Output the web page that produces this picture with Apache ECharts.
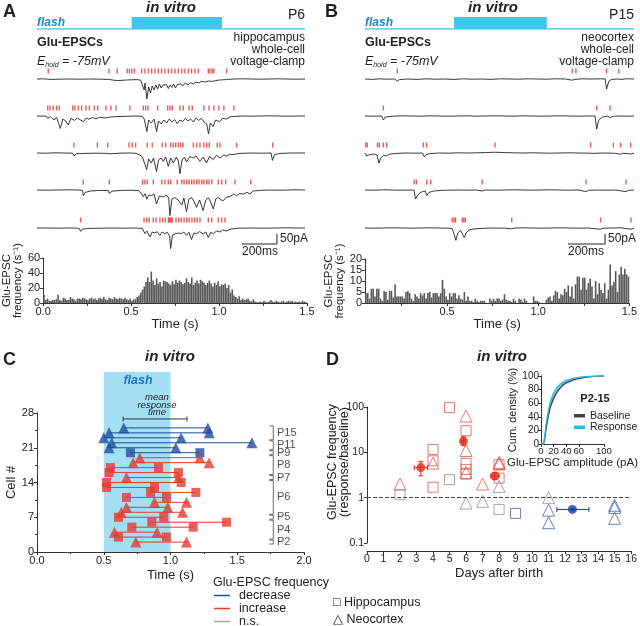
<!DOCTYPE html>
<html>
<head>
<meta charset="utf-8">
<script src="https://cdn.jsdelivr.net/npm/echarts@6/dist/echarts.min.js"></script>
<style>html,body{margin:0;background:#fff}#main{width:640px;height:626px}</style>
</head>
<body>
<div id="main"></div>
<script>
// ---- data ----
// flash window (s)
var flashA = [0.53, 1.035];
var flashB = [0.53, 1.03];

// example traces, [time (s), current (pA)]
var traceA1 = [[0,0],[0.03,1],[0.06,-1],[0.065,-8],[0.08,-2],[0.12,-1],[0.18,0],[0.24,-1],[0.30,0],[0.36,-1],[0.40,-2],[0.41,-9],[0.43,-6],[0.45,-8],[0.47,-7],[0.50,-5],[0.53,-4],[0.56,-3],[0.58,-6],[0.59,-30],[0.60,-55],[0.605,-20],[0.615,-100],[0.625,-40],[0.635,-70],[0.645,-35],[0.655,-55],[0.665,-30],[0.675,-50],[0.685,-25],[0.695,-45],[0.705,-30],[0.715,-40],[0.725,-28],[0.735,-48],[0.745,-30],[0.755,-42],[0.765,-25],[0.775,-45],[0.785,-28],[0.795,-38],[0.805,-24],[0.815,-35],[0.83,-20],[0.845,-30],[0.86,-18],[0.875,-25],[0.89,-15],[0.905,-20],[0.92,-12],[0.94,-15],[0.96,-10],[0.98,-12],[1.0,-8],[1.02,-5],[1.04,-4],[1.055,-3],[1.06,-10],[1.07,-2],[1.1,0],[1.15,1],[1.2,0],[1.25,-1],[1.3,0],[1.35,1],[1.4,0],[1.45,-1],[1.5,0]];
var traceA2 = [[0,0],[0.03,-1],[0.05,0],[0.06,-12],[0.075,-4],[0.095,-20],[0.11,-8],[0.13,-62],[0.145,-15],[0.16,-25],[0.175,-45],[0.19,-12],[0.21,-22],[0.225,-10],[0.24,-18],[0.26,-28],[0.275,-10],[0.29,-16],[0.31,-8],[0.33,-14],[0.35,-6],[0.38,-10],[0.41,-5],[0.44,-3],[0.48,-2],[0.52,-1],[0.56,0],[0.59,-2],[0.6,-15],[0.615,-78],[0.625,-20],[0.64,-35],[0.655,-15],[0.67,-78],[0.68,-25],[0.695,-40],[0.71,-20],[0.725,-35],[0.74,-15],[0.755,-30],[0.77,-18],[0.785,-38],[0.80,-20],[0.815,-28],[0.83,-12],[0.845,-25],[0.86,-15],[0.875,-30],[0.89,-10],[0.905,-22],[0.92,-12],[0.935,-30],[0.95,-40],[0.96,-90],[0.97,-35],[0.985,-53],[1.0,-20],[1.02,-28],[1.04,-12],[1.06,-15],[1.08,-5],[1.1,-2],[1.15,0],[1.2,-1],[1.25,0],[1.3,1],[1.35,0],[1.4,-1],[1.45,0],[1.5,0]];
var traceA3 = [[0,0],[0.05,-1],[0.1,1],[0.15,0],[0.2,-1],[0.207,-15],[0.22,-4],[0.27,-2],[0.32,-1],[0.39,-2],[0.395,-12],[0.41,-4],[0.46,-1],[0.52,0],[0.555,-2],[0.575,-10],[0.59,-20],[0.6,-12],[0.614,-83],[0.625,-30],[0.64,-50],[0.652,-25],[0.669,-92],[0.68,-35],[0.695,-25],[0.707,-42],[0.72,-20],[0.735,-67],[0.748,-25],[0.763,-50],[0.78,-20],[0.79,-35],[0.8,-103],[0.812,-35],[0.825,-20],[0.837,-45],[0.855,-18],[0.875,-25],[0.89,-15],[0.912,-42],[0.93,-20],[0.949,-50],[0.965,-18],[0.987,-33],[1.005,-12],[1.024,-25],[1.045,-10],[1.061,-15],[1.08,-6],[1.098,-8],[1.13,-2],[1.2,0],[1.26,-1],[1.31,0],[1.318,-37],[1.33,-8],[1.36,-2],[1.42,0],[1.5,0]];
var traceA4 = [[0,0],[0.06,-1],[0.12,0],[0.18,1],[0.23,0],[0.255,-2],[0.259,-28],[0.27,-12],[0.3,-5],[0.35,-2],[0.4,-3],[0.405,-17],[0.42,-6],[0.47,-2],[0.53,-1],[0.57,-3],[0.585,-20],[0.595,-33],[0.605,-18],[0.614,-45],[0.627,-25],[0.64,-28],[0.655,-20],[0.669,-70],[0.685,-30],[0.707,-35],[0.725,-25],[0.737,-40],[0.744,-128],[0.755,-45],[0.772,-38],[0.79,-50],[0.81,-75],[0.822,-40],[0.837,-108],[0.85,-45],[0.865,-38],[0.878,-55],[0.893,-87],[0.91,-50],[0.93,-103],[0.945,-50],[0.959,-38],[0.972,-60],[0.987,-95],[1.0,-45],[1.015,-38],[1.03,-50],[1.043,-53],[1.06,-35],[1.08,-33],[1.1,-20],[1.117,-28],[1.135,-18],[1.155,-20],[1.175,-12],[1.192,-20],[1.21,-5],[1.25,-2],[1.3,0],[1.35,-1],[1.4,0],[1.45,1],[1.5,0]];
var traceA5 = [[0,0],[0.06,0],[0.12,-1],[0.18,0],[0.235,-1],[0.244,-17],[0.255,-5],[0.3,-2],[0.36,-1],[0.42,0],[0.48,-1],[0.54,0],[0.59,-2],[0.604,-28],[0.615,-15],[0.632,-45],[0.645,-20],[0.66,-25],[0.672,-18],[0.688,-37],[0.7,-20],[0.716,-28],[0.73,-22],[0.742,-40],[0.748,-103],[0.758,-35],[0.772,-30],[0.79,-25],[0.81,-28],[0.822,-20],[0.837,-37],[0.85,-22],[0.865,-58],[0.878,-25],[0.893,-28],[0.91,-18],[0.93,-30],[0.945,-20],[0.959,-48],[0.972,-22],[0.987,-28],[1.005,-15],[1.024,-20],[1.04,-10],[1.061,-15],[1.08,-6],[1.098,-4],[1.13,-1],[1.2,0],[1.27,-1],[1.33,0],[1.4,1],[1.45,0],[1.5,0]];

var traceB1 = [[0.05,0],[0.09,-2],[0.13,1],[0.17,-1],[0.21,0],[0.224,-10],[0.235,-3],[0.28,0],[0.33,-2],[0.38,1],[0.43,-1],[0.48,0],[0.53,-2],[0.58,1],[0.63,-1],[0.68,0],[0.73,-2],[0.78,1],[0.83,0],[0.88,-1],[0.93,1],[0.98,0],[1.03,-1],[1.08,1],[1.13,0],[1.167,-6],[1.18,-2],[1.187,-5],[1.22,1],[1.27,0],[1.32,1],[1.345,0],[1.352,-50],[1.365,-10],[1.38,-2],[1.41,0],[1.418,-8],[1.43,-2],[1.46,1],[1.5,0]];
var traceB2 = [[0.05,0],[0.1,-1],[0.14,0],[0.149,-20],[0.16,-5],[0.2,-1],[0.25,1],[0.3,0],[0.35,-1],[0.4,1],[0.45,0],[0.5,-1],[0.55,0],[0.6,1],[0.65,-1],[0.7,0],[0.75,1],[0.8,0],[0.85,-1],[0.9,1],[0.95,0],[1.0,-1],[1.05,0],[1.1,1],[1.15,0],[1.2,-1],[1.25,0],[1.29,0],[1.299,-65],[1.31,-20],[1.33,-5],[1.36,0],[1.371,-10],[1.385,-2],[1.42,0],[1.46,-1],[1.5,0]];
var traceB3 = [[0.05,0],[0.059,-15],[0.075,-8],[0.1,-5],[0.115,-10],[0.125,-50],[0.135,-25],[0.149,-12],[0.155,-20],[0.167,-15],[0.18,-6],[0.22,-2],[0.27,0],[0.32,-1],[0.36,0],[0.37,-20],[0.38,-8],[0.386,-12],[0.4,-3],[0.45,0],[0.5,-1],[0.55,1],[0.6,0],[0.65,1],[0.7,2],[0.75,4],[0.8,2],[0.85,1],[0.9,0],[0.95,1],[1.0,0],[1.05,-1],[1.1,0],[1.15,1],[1.2,0],[1.26,-1],[1.267,-8],[1.28,-2],[1.33,0],[1.385,-1],[1.39,-8],[1.4,-2],[1.428,-6],[1.44,-1],[1.482,-5],[1.5,-1]];
var traceB4 = [[0.05,0],[0.1,-1],[0.15,1],[0.2,0],[0.25,-1],[0.3,0],[0.315,-2],[0.322,-45],[0.332,-30],[0.345,-15],[0.36,-8],[0.375,-5],[0.383,-28],[0.395,-12],[0.404,-18],[0.42,-5],[0.46,-2],[0.5,-1],[0.55,0],[0.6,-1],[0.65,0],[0.682,-5],[0.7,0],[0.75,-1],[0.8,0],[0.85,1],[0.9,0],[0.95,-1],[1.0,0],[1.05,1],[1.1,0],[1.15,-1],[1.2,0],[1.241,-8],[1.255,-2],[1.3,0],[1.35,-1],[1.4,0],[1.457,-8],[1.47,-2],[1.5,0]];
var traceB5 = [[0.05,0],[0.1,-1],[0.15,0],[0.2,1],[0.25,0],[0.3,-1],[0.35,0],[0.4,1],[0.45,0],[0.5,-1],[0.52,-3],[0.53,-30],[0.54,-62],[0.55,-25],[0.565,-12],[0.575,-8],[0.585,-48],[0.595,-25],[0.61,-10],[0.64,-4],[0.7,-1],[0.75,0],[0.8,-1],[0.841,-4],[0.86,0],[0.9,1],[0.95,0],[1.0,-1],[1.05,0],[1.1,1],[1.15,0],[1.2,-1],[1.25,0],[1.32,-6],[1.335,-1],[1.38,0],[1.43,1],[1.484,-6],[1.5,-1]];

// detected events (s)
var eventsA1 = [0.063,0.403,0.449,0.505,0.517,0.53,0.545,0.586,0.604,0.623,0.642,0.66,0.679,0.697,0.716,0.735,0.753,0.772,0.791,0.81,0.828,0.847,0.865,0.884,0.903,0.959,0.968,0.981,0.99,1.061];
var eventsA2 = [0.06,0.073,0.091,0.11,0.125,0.2,0.213,0.231,0.25,0.274,0.293,0.321,0.34,0.386,0.414,0.442,0.52,0.595,0.608,0.621,0.675,0.731,0.744,0.757,0.8,0.819,0.851,0.869,0.934,0.963,0.99,1.018,1.046,1.102];
var eventsA3 = [0.207,0.338,0.396,0.515,0.533,0.552,0.617,0.645,0.701,0.72,0.748,0.763,0.776,0.791,0.804,0.817,0.875,0.894,0.912,0.934,0.95,0.964,1.009,1.024,1.117,1.319];
var eventsA4 = [0.259,0.405,0.591,0.604,0.617,0.651,0.698,0.716,0.735,0.748,0.785,0.81,0.823,0.838,0.851,0.866,0.879,0.894,0.907,0.922,0.934,0.95,0.963,0.978,1.015,1.034,1.056,1.108,1.196];
var eventsA5 = [0.244,0.599,0.614,0.628,0.651,0.666,0.688,0.703,0.718,0.735,0.74,0.746,0.752,0.757,0.778,0.793,0.808,0.823,0.838,0.852,0.867,0.882,0.897,0.912,0.959,0.978,1.015,1.034,1.052];
var eventsB1 = [0.224,1.167,1.187,1.352,1.418];
var eventsB2 = [0.149,1.299,1.371];
var eventsB3 = [0.054,0.062,0.117,0.127,0.149,0.167,0.364,0.382,0.751,1.267,1.389,1.428,1.482];
var eventsB4 = [0.315,0.327,0.383,0.404,0.682,1.241,1.457];
var eventsB5 = [0.52,0.53,0.538,0.575,0.583,0.591,0.841,1.32,1.484];

// scale bars [time, pA]
var scaleBarA = [[1.147,-80],[1.343,-80],[1.343,-30]];
var scaleBarB = [[1.144,-80],[1.344,-80],[1.344,-30]];

// PSTH, 10 ms bins (s^-1)
var binWidth = 0.01;
var histStartA = 0;
var histA = [11,4,6,3,3,4,4,5,11,4, 3,7,6,4,4,8,6,5,3,6, 6,5,7,6,5,4,6,7,5,6, 4,6,7,5,8,5,4,7,6,5,
  8,6,5,7,6,5,7,5,4,6, 3,5,5,8,10,14,18,22,28,34, 28,42,30,24,33,26,28,22,30,29, 28,26,24,29,25,31,27,30,28,25,
  27,33,28,26,34,24,27,30,26,31, 29,27,24,27,30,26,22,27,24,29, 22,25,24,26,20,24,14,18,10,8, 6,9,4,6,4,5,6,3,2,5,
  2,1,1,2,1,3,2,1,2,4, 2,1,3,2,1,2,3,1,2,3, 2,3,1,2,1,2,1,3,2,1];
var histStartB = 0.05;
var histB = [4.5,4.5,2,6.5,6.5,3,6.5,6.5,2,1, 5.5,5,1.5,5.5,5.5,2.5,8.5,3,3,3, 3,2,5,5.5,4.5,2,1,4,3,2, 4.5,3.5,4.5,2,4.5,5,2.5,4.5,4.5,4.5,
  3,4.5,10.5,6.5,3,1.5,4.5,3,4.5,4.5, 2,3.5,2,1.5,5,1,3,1,1,0.5, 2,1,0.5,1,1,1,0,0,2,1, 2,1,2,2,1,1.5,4,1.5,1,1,
  0.5,2,1,0,2,1.5,0.5,2,1,0, 0,0,3,1,1,0.5,0,0,0,1.5, 2.5,3,1,3.5,5.5,5,2,4,3.5,6.5, 5,8,3,7.5,2,8.5,12,12,6,11.5,
  11.5,6,9,11,7.5,2,10,4,9,6, 4.5,9,2,6,17.5,8,9.5,14.5,5,13, 16.5,13,15.5,13,12];

// panel C: one row per cell
var cellC   = [25,24,23,22,21,20,19,18,17,16,15,14,13,12,11,10,9,8,7,6,5,4,3,2];
var firstC  = [0.65,0.54,0.50,0.56,0.54,0.70,0.77,0.72,0.55,0.54,0.67,0.52,0.52,0.85,0.67,0.88,0.67,0.63,0.61,0.86,0.71,0.58,0.61,0.74];
var secondC = [1.28,1.29,1.08,1.61,1.04,1.22,1.22,1.29,0.91,1.06,1.06,1.08,0.88,1.19,0.97,1.12,0.98,1.09,0.95,1.42,1.17,0.90,0.97,1.12];
var shapeC  = ['t','t','t','t','t','s','t','t','s','s','t','s','s','s','s','t','t','t','s','s','s','t','s','t'];
var changeC = ['dec','dec','dec','dec','dec','dec','inc','inc','inc','inc','inc','inc','inc','inc','inc','inc','inc','inc','inc','inc','inc','inc','inc','inc'];
var meanResponse = [0.645, 1.124];
var meanResponseCell = 26.8;
var ageGroups   = ['P15','P11','P9','P8','P7','P6','P5','P4','P2'];
var groupTop    = [25,22,20,19,15,14,7,6,2];
var groupBottom = [23,21,20,16,15,8,7,3,2];

// panel D: response/baseline ratio by age (days)
var hippoUpDay = [4,4,4,5,6,6,6,6,8,8];
var hippoUpVal = [11.6,6.5,1.7,97,30,5.7,4.2,3.3,5.3,2.7];
var neoUpDay = [2,4,6,6,6,7,8,8];
var neoUpVal = [2.0,5.8,63,11,3.6,2.0,6.0,5.6];
var hippoNsDay = [2,5,8];
var hippoNsVal = [1.16,2.5,0.55];
var neoNsDay = [6,7,8,11];
var neoNsVal = [0.76,0.83,1.77,1.0];
var hippoDownDay = [9];
var hippoDownVal = [0.45];
var neoDownDay = [11,11,15,15,15];
var neoDownVal = [0.53,0.28,0.68,0.61,0.35];
// means: [day, ratio, dayLo, dayHi, ratioLo, ratioHi]
var meanUp = [[3.26,4.6,2.86,3.66,3.03,6.24],[5.84,17.7,5.74,5.94,14,22],[7.74,3.0,7.5,8.0,2.5,3.6]];
var meanDown = [[12.44,0.55,11.5,13.44,0.52,0.58]];

// inset: cumulative amplitude distribution (%)
var ampX     = [0,4,6,8,10,12,15,20,25,30,35,40,50,60,70,80,90,100];
var baseMean = [0,0,8,22,33,43,55,67,76,82,87,90,94,96.5,98,99,99.7,100];
var baseSem  = [0,0,2,3,3.5,3.5,3.5,3,2.5,2,1.8,1.5,1.2,0.8,0.5,0.3,0.1,0];
var respMean = [0,0,12,28,40,50,62,74,82,87,90.5,93,96,98,99,99.6,100,100];
var respSem  = [0,0,3,4.5,5,5,4.5,4,3.5,3,2.5,2,1.2,0.8,0.5,0.3,0,0];

// ---- chart ----
var F = "'Liberation Sans', Arial, sans-serif";
var RED = '#e53b2e', BLUE = '#1d4f9e', GRAY = '#8f8f8f', CYAN = '#3cc6e9', TICKRED = '#e63329', INK = '#222';

var grid = [], xAxis = [], yAxis = [], series = [];
function addGrid(g, xa, ya) {
  grid.push(g);
  var i = grid.length - 1;
  xa.gridIndex = i; ya.gridIndex = i;
  xAxis.push(xa); yAxis.push(ya);
  return i;
}
function hidden(min, max) { return { type: 'value', show: false, min: min, max: max }; }
var axLine = { show: true, lineStyle: { color: '#333', width: 1 } };
var axTick = { show: true, length: 3, lineStyle: { color: '#333' } };
function axLabel(extra) { return Object.assign({ fontSize: 11, color: INK, fontFamily: F, margin: 3 }, extra || {}); }
var nameStyle = { fontSize: 13, color: INK, fontFamily: F };

// flash bars above the traces
[[37, 268, 0, flashA], [365, 269, 0.05, flashB]].forEach(function (p) {
  var gi = addGrid({ left: p[0], top: 17, width: p[1], height: 12 }, hidden(p[2], 1.5), hidden(0, 1));
  series.push({
    type: 'line', xAxisIndex: gi, yAxisIndex: gi, data: [[p[2], 0], [1.5, 0]], symbol: 'none',
    lineStyle: { color: CYAN, width: 1.5 }, silent: true,
    markArea: { silent: true, itemStyle: { color: CYAN }, data: [[{ xAxis: p[3][0], yAxis: 0 }, { xAxis: p[3][1], yAxis: 1 }]] }
  });
});

// traces
var traceTops = [69, 106, 143, 180, 218];
function addTraces(left, width, xmin, traces, events, bar) {
  traces.forEach(function (tr, k) {
    var gi = addGrid({ left: left, top: traceTops[k], width: width, height: 36 }, hidden(xmin, 1.5), hidden(-130, 50));
    series.push({ type: 'line', xAxisIndex: gi, yAxisIndex: gi, data: tr, symbol: 'none', silent: true,
      lineStyle: { color: INK, width: 0.9 } });
    series.push({ type: 'scatter', xAxisIndex: gi, yAxisIndex: gi, silent: true,
      data: events[k].map(function (t) { return [t, 40]; }),
      symbol: 'rect', symbolSize: [1.4, 5], itemStyle: { color: TICKRED } });
    if (k === traces.length - 1) {
      series.push({ type: 'line', xAxisIndex: gi, yAxisIndex: gi, data: bar, symbol: 'none', silent: true,
        lineStyle: { color: INK, width: 1 } });
    }
  });
}
addTraces(37, 268, 0, [traceA1, traceA2, traceA3, traceA4, traceA5], [eventsA1, eventsA2, eventsA3, eventsA4, eventsA5], scaleBarA);
addTraces(365, 269, 0.05, [traceB1, traceB2, traceB3, traceB4, traceB5], [eventsB1, eventsB2, eventsB3, eventsB4, eventsB5], scaleBarB);

// histograms
function addHist(g, xmin, ymax, yint, tickVals, labelVals, start, vals) {
  var gi = addGrid(g, {
    type: 'value', min: xmin, max: 1.5, axisLine: axLine,
    axisTick: Object.assign({ customValues: tickVals }, axTick),
    axisLabel: axLabel({ customValues: labelVals, formatter: function (v) { return v.toFixed(1); } }),
    splitLine: { show: false }, name: 'Time (s)', nameLocation: 'middle', nameGap: 15, nameTextStyle: nameStyle
  }, {
    type: 'value', min: 0, max: ymax, interval: yint, axisLine: axLine, axisTick: axTick, axisLabel: axLabel(),
    splitLine: { show: false }, name: 'Glu-EPSC\nfrequency (s\u207b\u00b9)', nameLocation: 'middle', nameRotate: 90,
    nameGap: 13, nameTextStyle: { fontSize: 11.5, color: INK, fontFamily: F, lineHeight: 11 }
  });
  series.push({ type: 'bar', xAxisIndex: gi, yAxisIndex: gi, barWidth: 1.6, silent: true,
    data: vals.map(function (v, i) { return [start + (i + 0.5) * binWidth, v]; }),
    itemStyle: { color: '#585858' } });
}
addHist({ left: 36, top: 258, width: 271, height: 45 }, 0, 60, 20, [0, 0.25, 0.5, 0.75, 1, 1.25, 1.5], [0, 0.5, 1, 1.5], histStartA, histA);
addHist({ left: 365, top: 259, width: 269, height: 44 }, 0.05, 20, 5, [0.25, 0.5, 0.75, 1, 1.25, 1.5], [0.5, 1, 1.5], histStartB, histB);

// panel C
var gFC = addGrid({ left: 37, top: 372, width: 267, height: 180 }, hidden(0, 2), hidden(0, 1));
series.push({ type: 'line', xAxisIndex: gFC, yAxisIndex: gFC, data: [[0.5, 0]], symbol: 'none', z: 1, silent: true,
  lineStyle: { width: 0 },
  markArea: { silent: true, itemStyle: { color: '#a3def2' }, data: [[{ xAxis: 0.5, yAxis: 0 }, { xAxis: 1.0, yAxis: 1 }]] } });

var gC = addGrid({ left: 37, top: 413, width: 267, height: 139 }, {
  type: 'value', min: 0, max: 2, interval: 0.5, axisLine: axLine, axisTick: axTick,
  minorTick: { show: true, splitNumber: 2, length: 2, lineStyle: { color: '#333' } },
  axisLabel: axLabel({ formatter: function (v) { return v.toFixed(1); } }), splitLine: { show: false },
  name: 'Time (s)', nameLocation: 'middle', nameGap: 17, nameTextStyle: nameStyle
}, {
  type: 'value', min: 0, max: 28, interval: 7, axisLine: axLine, axisTick: axTick,
  minorTick: { show: true, splitNumber: 2, length: 2, lineStyle: { color: '#333' } },
  axisLabel: axLabel(), splitLine: { show: false },
  name: 'Cell #', nameLocation: 'middle', nameRotate: 90, nameGap: 14, nameTextStyle: nameStyle
});
cellC.forEach(function (c, i) {
  var col = changeC[i] === 'dec' ? BLUE : RED;
  series.push({ type: 'line', name: changeC[i] === 'dec' ? 'decrease' : 'increase', xAxisIndex: gC, yAxisIndex: gC, z: 2,
    data: [[firstC[i], c], [secondC[i], c]], symbol: 'none', silent: true,
    itemStyle: { color: col }, lineStyle: { color: col, width: 1 } });
});
[['dec', 't'], ['dec', 's'], ['inc', 't'], ['inc', 's']].forEach(function (k) {
  var pts = [];
  cellC.forEach(function (c, i) {
    if (changeC[i] === k[0] && shapeC[i] === k[1]) { pts.push([firstC[i], c]); pts.push([secondC[i], c]); }
  });
  series.push({ type: 'scatter', xAxisIndex: gC, yAxisIndex: gC, z: 3, silent: true, data: pts,
    symbol: k[1] === 't' ? 'triangle' : 'rect', symbolSize: k[1] === 't' ? 11 : 9,
    itemStyle: { color: k[0] === 'dec' ? BLUE : RED } });
});
series.push({ type: 'line', xAxisIndex: gC, yAxisIndex: gC, silent: true, z: 3,
  data: [[meanResponse[0], meanResponseCell], [meanResponse[1], meanResponseCell]],
  symbol: 'rect', symbolSize: [1, 5], itemStyle: { color: '#333' }, lineStyle: { color: '#333', width: 1 } });
ageGroups.forEach(function (g, i) {
  var t = groupTop[i] + 0.4, b = groupBottom[i] - 0.4;
  series.push({ type: 'line', xAxisIndex: gC, yAxisIndex: gC, silent: true, symbol: 'none',
    data: [[1.74, t], [1.77, t], [1.77, b], [1.74, b]], lineStyle: { color: '#444', width: 0.8 } });
  series.push({ type: 'scatter', xAxisIndex: gC, yAxisIndex: gC, silent: true, symbolSize: 0,
    data: [[1.79, (groupTop[i] + groupBottom[i]) / 2]],
    label: { show: true, position: 'right', distance: 1, formatter: g, fontSize: 11, color: INK, fontFamily: F } });
});

// panel D
var gD = addGrid({ left: 367, top: 407, width: 266, height: 136 }, {
  type: 'value', min: 0, max: 16, interval: 1, offset: 8, axisLine: axLine, axisTick: axTick,
  axisLabel: axLabel({ fontSize: 10.5 }), splitLine: { show: false },
  name: 'Days after birth', nameLocation: 'middle', nameGap: 16, nameTextStyle: nameStyle
}, {
  type: 'log', logBase: 10, min: 0.1, max: 100, axisLine: axLine, axisTick: axTick,
  axisLabel: axLabel({ fontSize: 10.5 }), splitLine: { show: false }
});
function openPts(name, days, vals, symbol, color, size) {
  series.push({ type: 'scatter', name: name, xAxisIndex: gD, yAxisIndex: gD, silent: true, z: 3,
    data: days.map(function (d, i) { return [d, vals[i]]; }), symbol: symbol, symbolSize: size,
    itemStyle: { color: 'rgba(0,0,0,0)', borderColor: color, borderWidth: 1 } });
}
openPts('up-h', hippoUpDay, hippoUpVal, 'rect', '#e0554c', 10);
openPts('up-n', neoUpDay, neoUpVal, 'triangle', '#e0554c', 12);
openPts('n.s.', hippoNsDay, hippoNsVal, 'rect', GRAY, 10);
openPts('n.s.', neoNsDay, neoNsVal, 'triangle', GRAY, 12);
openPts('down-h', hippoDownDay, hippoDownVal, 'rect', '#3d62b0', 10);
openPts('down-n', neoDownDay, neoDownVal, 'triangle', '#3d62b0', 12);
series[series.length - 1].markLine = { silent: true, symbol: 'none', label: { show: false },
  lineStyle: { type: 'dashed', color: '#444', width: 1 }, data: [{ yAxis: 1 }] };
function errBars(data, color) {
  series.push({ type: 'custom', xAxisIndex: gD, yAxisIndex: gD, silent: true, z: 4, data: data,
    renderItem: function (params, api) {
      var a = api.coord([api.value(2), api.value(1)]), b = api.coord([api.value(3), api.value(1)]);
      var d = api.coord([api.value(0), api.value(4)]), e = api.coord([api.value(0), api.value(5)]);
      var st = { stroke: color, lineWidth: 1 };
      return { type: 'group', children: [
        { type: 'line', shape: { x1: a[0], y1: a[1], x2: b[0], y2: b[1] }, style: st },
        { type: 'line', shape: { x1: a[0], y1: a[1] - 2.5, x2: a[0], y2: a[1] + 2.5 }, style: st },
        { type: 'line', shape: { x1: b[0], y1: b[1] - 2.5, x2: b[0], y2: b[1] + 2.5 }, style: st },
        { type: 'line', shape: { x1: d[0], y1: d[1], x2: e[0], y2: e[1] }, style: st },
        { type: 'line', shape: { x1: d[0] - 2.5, y1: d[1], x2: d[0] + 2.5, y2: d[1] }, style: st },
        { type: 'line', shape: { x1: e[0] - 2.5, y1: e[1], x2: e[0] + 2.5, y2: e[1] }, style: st }
      ] };
    } });
  series.push({ type: 'scatter', xAxisIndex: gD, yAxisIndex: gD, silent: true, z: 5,
    data: data.map(function (m) { return [m[0], m[1]]; }), symbol: 'circle', symbolSize: 9, itemStyle: { color: color } });
}
errBars(meanUp, '#e8271f');
errBars(meanDown, '#1b3f9a');

// inset
var gI = addGrid({ left: 541, top: 376, width: 83, height: 68 }, {
  type: 'value', min: 0, max: 100, interval: 20, axisLine: axLine, axisTick: axTick,
  axisLabel: axLabel({ fontSize: 9.5, margin: 2, showMaxLabel: true, showMinLabel: true, hideOverlap: false }), splitLine: { show: false },
  name: 'Glu-EPSC amplitude (pA)', nameLocation: 'middle', nameGap: 13, nameTextStyle: { fontSize: 11.5, color: INK, fontFamily: F }
}, {
  type: 'value', min: 0, max: 100, interval: 20, axisLine: axLine, axisTick: axTick,
  axisLabel: axLabel({ fontSize: 10, margin: 2 }), splitLine: { show: false },
  name: 'Cum. density (%)', nameLocation: 'middle', nameRotate: 90, nameGap: 14, nameTextStyle: { fontSize: 11, color: INK, fontFamily: F }
});
function band(mean, sem, fill) {
  series.push({ type: 'custom', xAxisIndex: gI, yAxisIndex: gI, silent: true, z: 2,
    data: ampX.map(function (x, i) { return [x, mean[i]]; }),
    renderItem: function (params, api) {
      if (params.dataIndex !== 0) return null;
      var pts = [];
      ampX.forEach(function (x, i) { pts.push(api.coord([x, Math.min(100, mean[i] + sem[i])])); });
      for (var i = ampX.length - 1; i >= 0; i--) pts.push(api.coord([ampX[i], Math.max(0, mean[i] - sem[i])]));
      return { type: 'polygon', shape: { points: pts }, style: { fill: fill } };
    } });
}
band(baseMean, baseSem, 'rgba(90,90,90,0.45)');
band(respMean, respSem, 'rgba(60,198,233,0.55)');
series.push({ type: 'line', name: 'Baseline', xAxisIndex: gI, yAxisIndex: gI, silent: true, z: 3, symbol: 'none',
  data: ampX.map(function (x, i) { return [x, baseMean[i]]; }), itemStyle: { color: '#444' }, lineStyle: { color: '#444', width: 1.3 } });
series.push({ type: 'line', name: 'Response', xAxisIndex: gI, yAxisIndex: gI, silent: true, z: 3, symbol: 'none',
  data: ampX.map(function (x, i) { return [x, respMean[i]]; }), itemStyle: { color: '#2bb8e4' }, lineStyle: { color: '#2bb8e4', width: 1.3 } });

// text
function txt(x, y, s, opt) {
  return { type: 'text', x: x, y: y, z: 100, silent: true,
    style: Object.assign({ text: s, fontFamily: F, fontSize: 11.5, fill: INK, align: 'left', verticalAlign: 'middle' }, opt || {}) };
}
var title = { fontSize: 15, fontWeight: 'bold', fontStyle: 'italic', align: 'center' };
var flashTxt = { fontSize: 12, fontWeight: 'bold', fontStyle: 'italic', fill: '#1a88cc' };
var ehold = { rich: {
  i: { fontSize: 12.5, fontStyle: 'italic', fontFamily: F, fill: INK, lineHeight: 14 },
  s: { fontSize: 7, fontStyle: 'italic', fontFamily: F, fill: INK, lineHeight: 8, verticalAlign: 'bottom' } } };
var dName = txt(339, 462, 'Glu-EPSC frequency\n(response/baseline)', { fontSize: 12.5, align: 'center', lineHeight: 12 });
dName.rotation = Math.PI / 2;
var graphic = [
  txt(3, 12, 'A', { fontSize: 18, fontWeight: 'bold' }),
  txt(325, 12, 'B', { fontSize: 18, fontWeight: 'bold' }),
  txt(3, 360, 'C', { fontSize: 18, fontWeight: 'bold' }),
  txt(326, 360, 'D', { fontSize: 18, fontWeight: 'bold' }),
  txt(171, 8, 'in vitro', title), txt(493, 8, 'in vitro', title),
  txt(170, 357, 'in vitro', title), txt(502, 357, 'in vitro', title),
  txt(37, 23, 'flash', flashTxt), txt(365, 23, 'flash', flashTxt),
  txt(305, 15, 'P6', { fontSize: 14, align: 'right' }), txt(634, 15, 'P15', { fontSize: 14, align: 'right' }),
  txt(37, 43, 'Glu-EPSCs', { fontSize: 12.5, fontWeight: 'bold' }), txt(365, 43, 'Glu-EPSCs', { fontSize: 12.5, fontWeight: 'bold' }),
  txt(37, 62, '{i|E}{s|hold}{i| = -75mV}', ehold), txt(365, 62, '{i|E}{s|hold}{i| = -75mV}', ehold),
  txt(305, 50, 'hippocampus\nwhole-cell\nvoltage-clamp', { fontSize: 12, align: 'right', lineHeight: 12 }),
  txt(634, 50, 'neocortex\nwhole-cell\nvoltage-clamp', { fontSize: 12, align: 'right', lineHeight: 12 }),
  txt(280, 239, '50pA', { fontSize: 12 }), txt(608, 239, '50pA', { fontSize: 12 }),
  txt(242, 252, '200ms', { fontSize: 12 }), txt(568, 252, '200ms', { fontSize: 12 }),
  txt(138, 381, 'flash', { fontSize: 12.5, fontWeight: 'bold', fontStyle: 'italic', fill: '#1a78c2', align: 'center' }),
  txt(157, 405, 'mean\nresponse\ntime', { fontSize: 9.5, fontStyle: 'italic', align: 'center', lineHeight: 7.5 }),
  dName,
  txt(213, 583, 'Glu-EPSC frequency', { fontSize: 12.5 }),
  txt(333, 603, '\u25a1 Hippocampus', { fontSize: 12.5 }),
  txt(333, 620, '\u25b3 Neocortex', { fontSize: 12.5 }),
  txt(595, 399, 'P2-15', { fontSize: 11, fontWeight: 'bold', align: 'center' })
];

var chart = echarts.init(document.getElementById('main'), null, { renderer: 'canvas' });
chart.setOption({
  animation: false,
  backgroundColor: '#fff',
  textStyle: { fontFamily: F },
  grid: grid, xAxis: xAxis, yAxis: yAxis, series: series, graphic: graphic,
  legend: [{
    data: [{ name: 'decrease', icon: 'rect' }, { name: 'increase', icon: 'rect' },
      { name: 'n.s.', icon: 'rect', itemStyle: { color: GRAY, borderWidth: 0 } }],
    orient: 'vertical', left: 214, top: 589, height: 40, padding: 0, itemGap: 0, itemWidth: 16, itemHeight: 1.5,
    selectedMode: false, textStyle: { fontSize: 12.5, color: INK, fontFamily: F, lineHeight: 12, padding: [0, 0, 0, 4] }
  }, {
    data: [{ name: 'Baseline', icon: 'rect' }, { name: 'Response', icon: 'rect' }],
    orient: 'vertical', left: 574, top: 410, padding: 0, itemGap: 0, itemWidth: 11, itemHeight: 3.5,
    selectedMode: false, textStyle: { fontSize: 10.5, color: INK, fontFamily: F, lineHeight: 11.5 }
  }]
});
</script>
</body>
</html>
